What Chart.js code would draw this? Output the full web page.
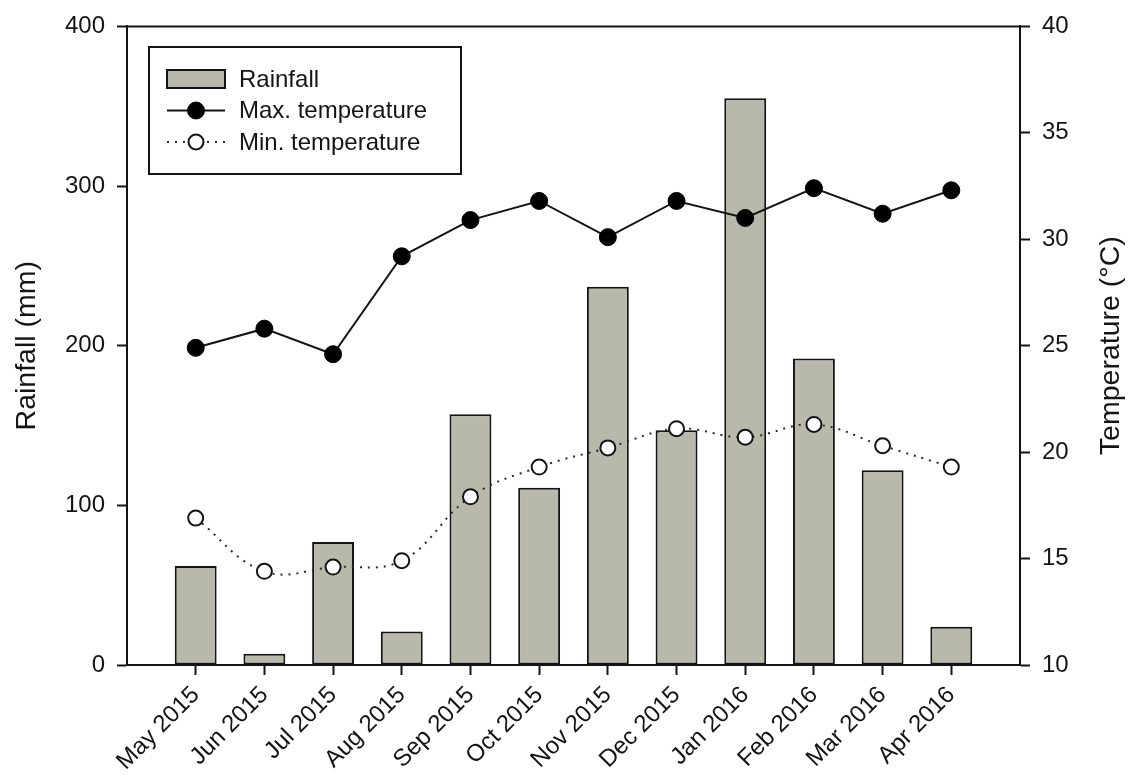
<!DOCTYPE html>
<html>
<head>
<meta charset="utf-8">
<script src="https://cdn.jsdelivr.net/npm/chart.js@4.4.1/dist/chart.umd.min.js"></script>
<style>
  html, body { margin: 0; padding: 0; background: #ffffff; }
  #wrap { width: 1134px; height: 776px; }
</style>
</head>
<body>
<div id="wrap"><canvas id="chart" width="1134" height="776"></canvas></div>
<script>
// Monthly climate record, May 2015 - Apr 2016
const months = ['May 2015', 'Jun 2015', 'Jul 2015', 'Aug 2015', 'Sep 2015', 'Oct 2015',
                'Nov 2015', 'Dec 2015', 'Jan 2016', 'Feb 2016', 'Mar 2016', 'Apr 2016'];
const rainfall = [62, 7, 77, 21, 157, 111, 237, 147, 355, 192, 122, 24];          // mm
const maxTemp  = [24.9, 25.8, 24.6, 29.2, 30.9, 31.8, 30.1, 31.8, 31.0, 32.4, 31.2, 32.3]; // °C
const minTemp  = [16.9, 14.4, 14.6, 14.9, 17.9, 19.3, 20.2, 21.1, 20.7, 21.3, 20.3, 19.3]; // °C
const rainTicks = [0, 100, 200, 300, 400];
const tempTicks = [10, 15, 20, 25, 30, 35, 40];

const FONT = 'Arial, "Liberation Sans", Helvetica, sans-serif';
const INK = '#141414';
const BAR_FILL = '#b8b8ab';

// months sit at x = 1..12 on a 0..13 linear axis (one full slot of margin each side)
const toPoints = arr => arr.map((v, i) => ({ x: i + 1, y: v }));

// boxed legend drawn from the datasets' own styles
const boxLegend = {
  id: 'boxLegend',
  afterDraw(chart) {
    const ctx = chart.ctx;
    const box = { x: 149, y: 47, w: 312, h: 127 };
    ctx.save();
    ctx.lineWidth = 2;
    ctx.strokeStyle = INK;
    ctx.fillStyle = '#ffffff';
    ctx.fillRect(box.x, box.y, box.w, box.h);
    ctx.strokeRect(box.x, box.y, box.w, box.h);

    const rows = [79, 110.5, 142];
    const sx0 = 167, sx1 = 225, tx = 239;
    ctx.font = '24px ' + FONT;
    ctx.textBaseline = 'middle';
    ctx.textAlign = 'left';
    chart.data.datasets.forEach((ds, i) => {
      const y = rows[i];
      if (ds.type === 'bar') {
        ctx.fillStyle = ds.backgroundColor;
        ctx.fillRect(sx0, y - 9, sx1 - sx0, 18);
        ctx.lineWidth = 2;
        ctx.strokeStyle = ds.borderColor;
        ctx.strokeRect(sx0, y - 9, sx1 - sx0, 18);
      } else {
        ctx.beginPath();
        ctx.setLineDash(ds.borderDash || []);
        ctx.lineWidth = ds.borderWidth;
        ctx.strokeStyle = ds.borderColor;
        ctx.moveTo(sx0, y);
        ctx.lineTo(sx1, y);
        ctx.stroke();
        ctx.setLineDash([]);
        ctx.beginPath();
        ctx.arc((sx0 + sx1) / 2, y, ds.pointRadius, 0, Math.PI * 2);
        ctx.fillStyle = ds.pointBackgroundColor;
        ctx.fill();
        ctx.lineWidth = ds.pointBorderWidth;
        ctx.strokeStyle = ds.pointBorderColor;
        ctx.stroke();
      }
      ctx.fillStyle = INK;
      ctx.fillText(ds.label, tx, y + 1);
    });
    ctx.restore();
  }
};

// closes the plot frame along the top and writes the right-hand axis title reading upward
const frameAndTitle = {
  id: 'frameAndTitle',
  afterDraw(chart) {
    const { ctx, chartArea } = chart;
    ctx.save();
    ctx.strokeStyle = INK;
    ctx.lineWidth = 2;
    ctx.beginPath();
    ctx.moveTo(chartArea.left, chartArea.top);
    ctx.lineTo(chartArea.right, chartArea.top);
    ctx.stroke();

    const yr = chart.scales.yTemp;
    ctx.translate(1111, (chartArea.top + chartArea.bottom) / 2);
    ctx.rotate(-Math.PI / 2);
    ctx.font = '28.5px ' + FONT;
    ctx.fillStyle = INK;
    ctx.textAlign = 'center';
    ctx.textBaseline = 'middle';
    ctx.fillText(yr.options.title.text, 0, 0);
    ctx.restore();
  }
};

const axisLine = { display: true, color: INK, width: 2 };
const tickMarks = { display: true, offset: false, drawOnChartArea: false, drawTicks: true, tickLength: 10, tickWidth: 2, tickColor: INK };

new Chart(document.getElementById('chart'), {
  data: {
    datasets: [
      {
        type: 'bar',
        label: 'Rainfall',
        data: toPoints(rainfall),
        yAxisID: 'yRain',
        backgroundColor: BAR_FILL,
        borderColor: INK,
        borderWidth: 2,
        borderSkipped: false,
        categoryPercentage: 1,
        barPercentage: 0.61,
        order: 3
      },
      {
        type: 'line',
        label: 'Max. temperature',
        data: toPoints(maxTemp),
        yAxisID: 'yTemp',
        borderColor: INK,
        borderWidth: 2,
        tension: 0,
        pointRadius: 8.5,
        pointBackgroundColor: '#000000',
        pointBorderColor: '#000000',
        pointBorderWidth: 1,
        order: 1
      },
      {
        type: 'line',
        label: 'Min. temperature',
        data: toPoints(minTemp),
        yAxisID: 'yTemp',
        borderColor: '#2a2a2a',
        borderWidth: 2,
        borderDash: [2, 6],
        tension: 0.4,
        pointRadius: 7.5,
        pointBackgroundColor: '#ffffff',
        pointBorderColor: INK,
        pointBorderWidth: 2,
        order: 2
      }
    ]
  },
  options: {
    responsive: false,
    devicePixelRatio: 1,
    animation: false,
    layout: { padding: { top: 23, left: 0, right: 0, bottom: 0 } },
    plugins: {
      legend: { display: false },
      tooltip: { enabled: false }
    },
    scales: {
      x: {
        type: 'linear',
        offset: false,
        min: 0,
        max: months.length + 1,
        afterBuildTicks: s => { s.ticks = months.map((m, i) => ({ value: i + 1 })); },
        afterFit: s => { s.height = 111; },
        ticks: {
          autoSkip: false,
          maxRotation: 45,
          minRotation: 45,
          padding: 6,
          color: INK,
          font: { family: FONT, size: 24 },
          callback: v => months[v - 1] || ''
        },
        grid: tickMarks,
        border: axisLine
      },
      yRain: {
        type: 'linear',
        position: 'left',
        min: 0,
        max: 400,
        afterBuildTicks: s => { s.ticks = rainTicks.map(v => ({ value: v })); },
        afterFit: s => { s.width = 127; },
        ticks: { color: INK, padding: 12, font: { family: FONT, size: 24 } },
        grid: tickMarks,
        border: axisLine,
        title: {
          display: true,
          text: 'Rainfall (mm)',
          color: INK,
          font: { family: FONT, size: 28.5 },
          padding: { top: 10, bottom: 0 }
        }
      },
      yTemp: {
        type: 'linear',
        position: 'right',
        min: 10,
        max: 40,
        afterBuildTicks: s => { s.ticks = tempTicks.map(v => ({ value: v })); },
        afterFit: s => { s.width = 114; },
        ticks: { color: INK, padding: 12, font: { family: FONT, size: 24 } },
        grid: tickMarks,
        border: axisLine,
        title: { display: false, text: 'Temperature (°C)' }
      }
    }
  },
  plugins: [boxLegend, frameAndTitle]
});
</script>
</body>
</html>
